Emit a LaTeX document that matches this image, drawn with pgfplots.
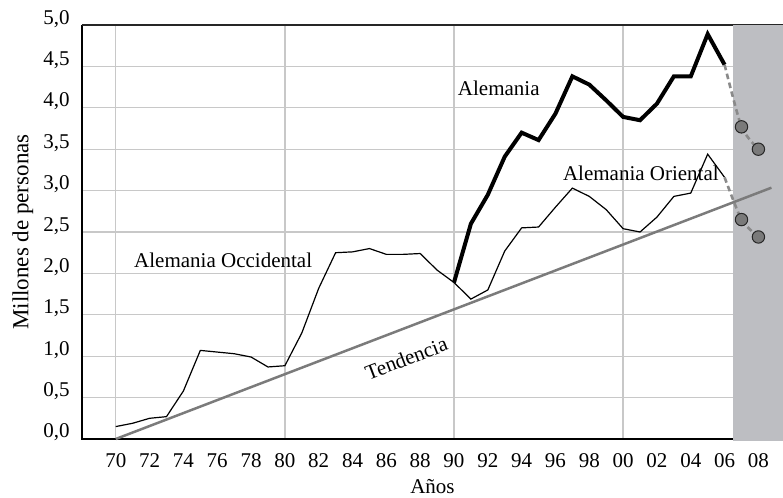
\documentclass[border=0pt]{standalone}
\usepackage{fontspec}
\setmainfont{Liberation Serif}
\usepackage{pgfplots}
\usepackage{pgfplotstable}
\pgfplotsset{compat=1.18}
\definecolor{gridc}{HTML}{C8C8C8}
\definecolor{shade}{HTML}{BDBEC2}
\definecolor{trendc}{HTML}{7B7B7B}
\definecolor{dashc}{HTML}{8A8A8A}
\definecolor{dotc}{HTML}{7A7A7A}
\definecolor{arrowc}{HTML}{B8B8B8}

\pgfplotstableread{
year val
70 0.15
71 0.19
72 0.25
73 0.27
74 0.58
75 1.07
76 1.05
77 1.03
78 0.99
79 0.87
80 0.885
81 1.28
82 1.82
83 2.25
84 2.26
85 2.30
86 2.23
87 2.23
88 2.24
89 2.04
90 1.89
91 1.69
92 1.80
93 2.27
94 2.55
95 2.56
96 2.80
97 3.03
98 2.93
99 2.77
100 2.54
101 2.50
102 2.68
103 2.93
104 2.97
105 3.44
106 3.16
}\westtable

\pgfplotstableread{
year val
90 1.89
91 2.60
92 2.95
93 3.41
94 3.70
95 3.61
96 3.93
97 4.38
98 4.28
99 4.09
100 3.89
101 3.85
102 4.05
103 4.38
104 4.38
105 4.89
106 4.52
}\totaltable

\begin{document}
\fontsize{10.5}{12.6}\selectfont
\begin{tikzpicture}
\path[use as bounding box] (0,0) rectangle (391.5pt,249pt);
\begin{axis}[
  at={(41pt,29.5pt)}, anchor=south west,
  scale only axis, width=350.5pt, height=207pt,
  xmin=68, xmax=109.45, ymin=0, ymax=5,
  axis line style={draw=none},
  major tick length=0pt,
  xtick={70,72,74,76,78,80,82,84,86,88,90,92,94,96,98,100,102,104,106,108},
  xticklabels={70,72,74,76,78,80,82,84,86,88,90,92,94,96,98,00,02,04,06,08},
  ytick={0,0.5,1,1.5,2,2.5,3,3.5,4,4.5,5},
  yticklabels={{0,0},{0,5},{1,0},{1,5},{2,0},{2,5},{3,0},{3,5},{4,0},{4,5},{5,0}},
  ymajorgrids,
  extra x ticks={70,80,90,100},
  extra x tick labels={},
  extra x tick style={grid=major},
  grid style={gridc, line width=0.65pt},
  xticklabel style={anchor=base, yshift=-14.5pt},
  yticklabel style={anchor=base east, inner sep=0pt, xshift=-6pt, yshift=0.5pt},
  xlabel={Años}, ylabel={Millones de personas},
  every axis x label/.style={at={(rel axis cs:0.5,0)}, anchor=base, yshift=-27.5pt},
  every axis y label/.style={at={(rel axis cs:0,0.5)}, xshift=-29.5pt, rotate=90, anchor=center, font=\fontsize{11.5}{13}\selectfont},
  clip=false,
]
\draw[black, line width=1pt] (rel axis cs:0,1) -- (rel axis cs:0,0) -- (rel axis cs:1,0);
\draw[black!85, line width=0.9pt] (rel axis cs:0,1) -- (rel axis cs:1,1);
\addplot[fill=shade, draw=none] coordinates {(106.5,-0.02) (109.45,-0.02) (109.45,5.005) (106.5,5.005)} -- cycle;
\addplot[trendc, line width=1.25pt] coordinates {(70,0) (108.77,3.035)};
\addplot[black, line width=0.6pt] table[x=year, y=val] {\westtable};
\addplot[black, line width=2pt] table[x=year, y=val] {\totaltable};
\addplot[dashc, line width=1.3pt, dash pattern=on 2.8pt off 1.8pt, smooth, tension=0.4] coordinates {(106,3.16) (107,2.65) (108,2.44)};
\addplot[dashc, line width=1.3pt, dash pattern=on 2.8pt off 1.8pt, smooth, tension=0.4] coordinates {(106,4.52) (107,3.77) (108,3.50)};
\addplot[only marks, mark=*, mark size=3.1pt, mark options={fill=dotc, draw=black!85, line width=0.5pt}] coordinates {(107,3.77) (108,3.50) (107,2.65) (108,2.44)};
\draw[draw=black!80, fill=arrowc, line width=0.5pt] (axis cs:100.69,3.41) ++(-2.25pt,0) -- ++(0,8.5pt) -- ++(-2.75pt,0) -- ++(5pt,7pt) -- ++(5pt,-7pt) -- ++(-2.75pt,0) -- ++(0,-8.5pt) -- cycle;
\draw[draw=black!80, fill=arrowc, line width=0.5pt] (axis cs:100.69,3.02) ++(-2.25pt,0) -- ++(0,-9.5pt) -- ++(-2.75pt,0) -- ++(5pt,-6.3pt) -- ++(5pt,6.3pt) -- ++(-2.75pt,0) -- ++(0,9.5pt) -- cycle;
\node at (axis cs:92.65,4.23) {Alemania};
\node at (axis cs:101.05,3.21) {Alemania Oriental};
\node at (axis cs:76.35,2.16) {Alemania Occidental};
\node[rotate=20.9] at (axis cs:87.18,0.975) {Tendencia};
\end{axis}
\end{tikzpicture}
\end{document}
